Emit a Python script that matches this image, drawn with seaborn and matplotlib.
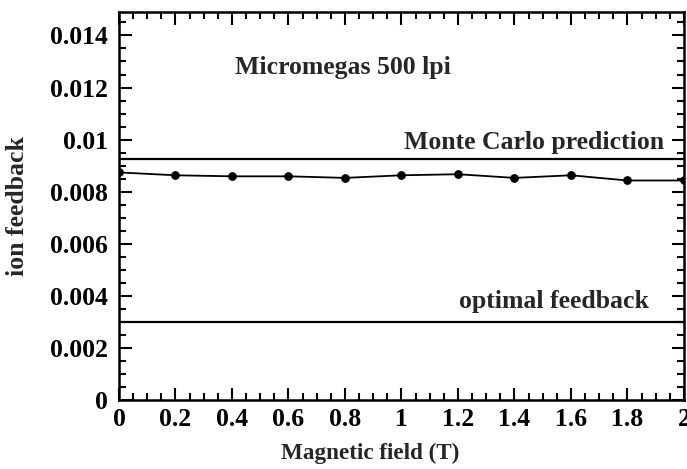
import numpy as np
import pandas as pd
import matplotlib
matplotlib.use("Agg")
import matplotlib.pyplot as plt
import seaborn as sns
from matplotlib.ticker import MultipleLocator

field = [0.0, 0.2, 0.4, 0.6, 0.8, 1.0, 1.2, 1.4, 1.6, 1.8, 2.0]
feedback = [0.00874, 0.00863, 0.00859, 0.00859, 0.00853, 0.00863, 0.00867, 0.00853, 0.00863, 0.00843, 0.00843]
monte_carlo = 0.00927
optimal = 0.0030
x_ticks = [0, 0.2, 0.4, 0.6, 0.8, 1, 1.2, 1.4, 1.6, 1.8, 2]
x_tick_labels = ["0", "0.2", "0.4", "0.6", "0.8", "1", "1.2", "1.4", "1.6", "1.8", "2"]
y_ticks = [0, 0.002, 0.004, 0.006, 0.008, 0.01, 0.012, 0.014]
y_tick_labels = ["0", "0.002", "0.004", "0.006", "0.008", "0.01", "0.012", "0.014"]

sns.set_style("ticks")
plt.rcParams['font.family'] = ['Liberation Serif', 'DejaVu Serif']
plt.rcParams['font.weight'] = 'bold'

fig = plt.figure(figsize=(6.87, 4.69), dpi=100)
ax = fig.add_axes([0.1732, 0.1471, 0.8224, 0.8273])

df = pd.DataFrame({"field": field, "feedback": feedback})
sns.lineplot(data=df, x="field", y="feedback", ax=ax, color="black", linewidth=1.3,
             marker="o", markersize=5.5, markeredgecolor="black")
ax.axhline(monte_carlo, color="black", linewidth=1.6)
ax.axhline(optimal, color="black", linewidth=1.6)

ax.set_xlim(0, 2)
ax.set_ylim(0, 0.0149)
ax.set_xticks(x_ticks)
ax.set_xticklabels(x_tick_labels)
ax.set_yticks(y_ticks)
ax.set_yticklabels(y_tick_labels)
ax.xaxis.set_minor_locator(MultipleLocator(0.05))
ax.yaxis.set_minor_locator(MultipleLocator(0.0005))
ax.tick_params(which="both", direction="in", top=True, right=True, width=1.5, colors="black")
ax.tick_params(which="major", length=9, labelsize=18.5)
ax.tick_params(axis="x", which="major", pad=6)
ax.tick_params(axis="y", which="major", pad=8)
ax.tick_params(which="minor", length=5)
for lab in ax.get_xticklabels() + ax.get_yticklabels():
    lab.set_fontweight("bold")
for s in ax.spines.values():
    s.set_linewidth(1.8)
    s.set_color("black")

ax.set_xlabel("Magnetic field (T)", fontsize=16.7, fontweight="bold")
ax.set_ylabel("ion feedback", fontsize=18.5, fontweight="bold")
ax.xaxis.set_label_coords(0.445, -0.11)
ax.yaxis.set_label_coords(-0.160, 0.5)

ax.text(0.794, 0.01277, "Micromegas 500 lpi", fontsize=18.5, fontweight="bold", va="center", ha="center")
ax.text(1.47, 0.00988, "Monte Carlo prediction", fontsize=18.5, fontweight="bold", va="center", ha="center")
ax.text(1.539, 0.00377, "optimal feedback", fontsize=18.5, fontweight="bold", va="center", ha="center")

fig.savefig("out.png", dpi=100)
